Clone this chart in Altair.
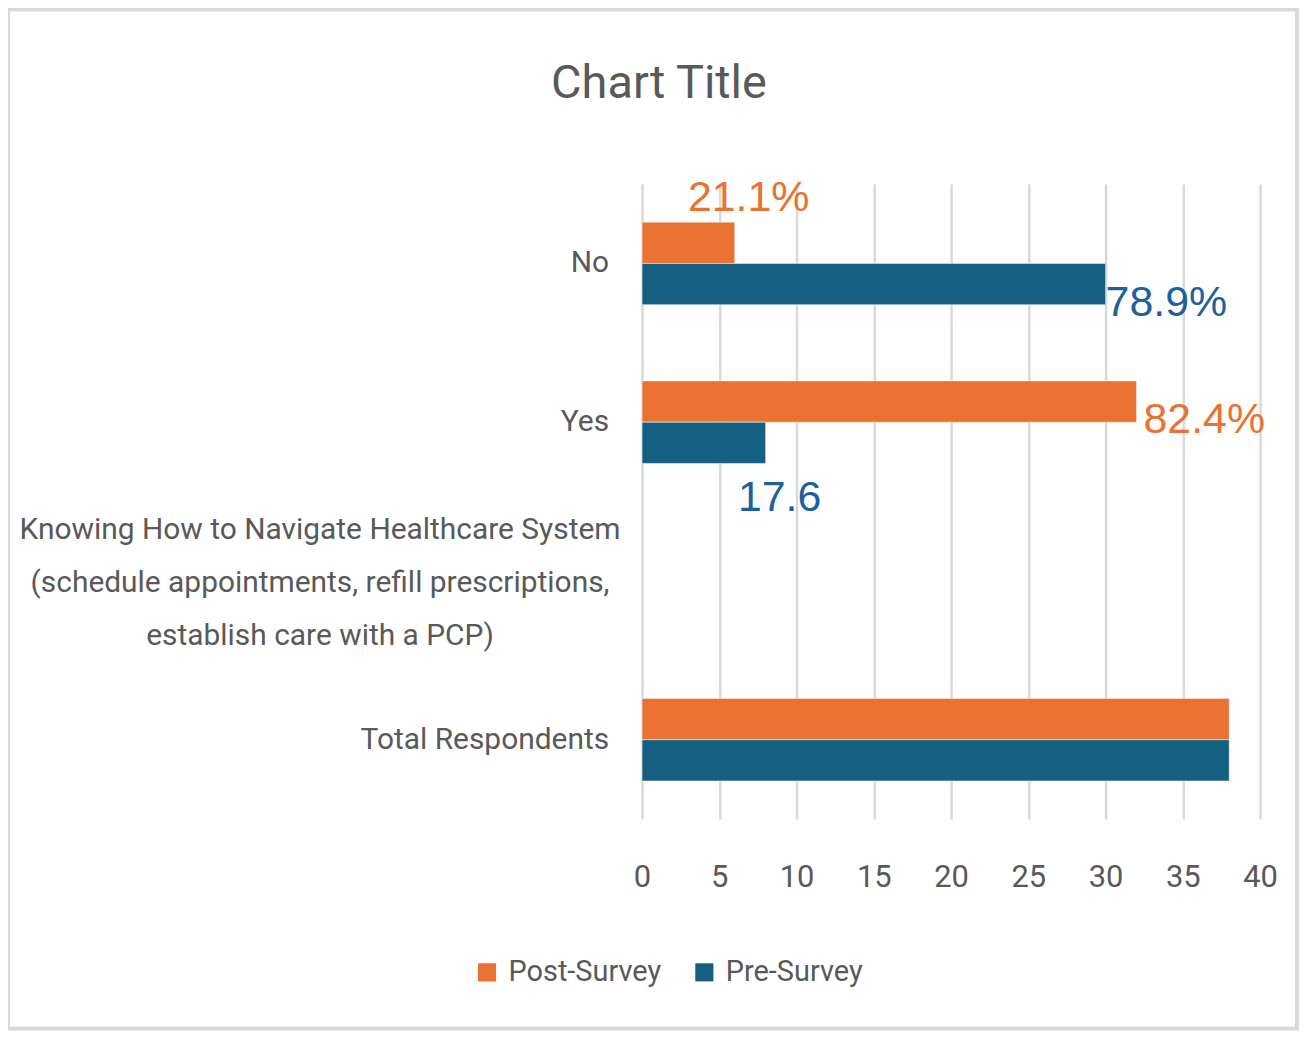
import altair as alt
import pandas as pd

# ---- data ----
cat_keys = ["No", "Yes", "Knowing", "Total Respondents"]
cat_text = ["No", "Yes",
            "Knowing How to Navigate Healthcare System|(schedule appointments, refill prescriptions,|establish care with a PCP)",
            "Total Respondents"]
series = ["Post-Survey", "Pre-Survey"]
post_values = [6, 32, None, 38]
pre_values = [30, 8, None, 38]
post_labels = ["21.1%", "82.4%", "", ""]
pre_labels = ["78.9%", "17.6", "", ""]
x_ticks = [0, 5, 10, 15, 20, 25, 30, 35, 40]

ORANGE = "#E97132"
TEAL = "#156082"
LBLUE = "#215F9A"
GREY = "#595959"
NARROW = "Roboto, sans-serif"

rows = []
for i, c in enumerate(cat_keys):
    rows.append({"cat": c, "series": "Post-Survey", "value": post_values[i], "label": post_labels[i]})
    rows.append({"cat": c, "series": "Pre-Survey", "value": pre_values[i], "label": pre_labels[i]})
df = pd.DataFrame(rows)
bars_df = df.dropna(subset=["value"])

cats_df = pd.DataFrame({"cat": cat_keys, "text": cat_text})

yscale = alt.Scale(domain=cat_keys, paddingInner=0.48, paddingOuter=0.24)
ysort = alt.YOffset("series:N", sort=series, scale=alt.Scale(domain=series, paddingInner=0, paddingOuter=0))

bars = alt.Chart(bars_df).mark_bar(stroke="white", strokeWidth=0.5).encode(
    y=alt.Y("cat:N", scale=yscale, axis=None),
    yOffset=ysort,
    x=alt.X("value:Q", scale=alt.Scale(domain=[0, 40], nice=False),
            axis=alt.Axis(values=x_ticks, grid=True, gridColor="#D9D9D9", gridWidth=2.5,
                          domain=False, ticks=False, labelFontSize=31, labelColor=GREY,
                          labelFont=NARROW, labelPadding=44, labelFlush=False, title=None)),
    color=alt.Color("series:N", sort=series,
                    scale=alt.Scale(domain=series, range=[ORANGE, TEAL]),
                    legend=alt.Legend(orient="none", legendX=-170, legendY=776, direction="horizontal",
                                      title=None, symbolType="square", symbolSize=330,
                                      symbolStrokeWidth=0, labelFontSize=29, labelFont=NARROW,
                                      labelColor=GREY, columnPadding=28, labelOffset=7, labelLimit=0)),
)

# category labels
simple_labels = alt.Chart(cats_df).transform_filter(
    "datum.cat != 'Knowing'"
).mark_text(align="right", baseline="middle", fontSize=30, font=NARROW, color=GREY).encode(
    y=alt.Y("cat:N", scale=yscale, axis=None),
    x=alt.value(-33),
    text="text:N",
)
multi_label = alt.Chart(cats_df).transform_filter(
    "datum.cat == 'Knowing'"
).mark_text(align="center", baseline="middle", fontSize=30, font=NARROW, color=GREY,
            lineBreak="|", lineHeight=53, dy=-51).encode(
    y=alt.Y("cat:N", scale=yscale, axis=None),
    x=alt.value(-323),
    text="text:N",
)

# data labels, each placed as in the reference
label_styles = {
    "21.1%": dict(align="center", dx=14, dy=-45, color=ORANGE),
    "78.9%": dict(align="left", dx=0, dy=19, color=LBLUE),
    "82.4%": dict(align="left", dx=7, dy=19, color=ORANGE),
    "17.6": dict(align="center", dx=14, dy=55, color=LBLUE),
}
label_layers = []
for lab, st in label_styles.items():
    label_layers.append(
        alt.Chart(bars_df).transform_filter(alt.datum.label == lab).mark_text(
            baseline="middle", fontSize=43, font="Liberation Sans, Arial, sans-serif", **st
        ).encode(
            y=alt.Y("cat:N", scale=yscale, axis=None),
            yOffset=ysort,
            x=alt.X("value:Q"),
            text="label:N",
        )
    )

border = alt.Chart(pd.DataFrame({"k": [0]})).mark_rect(
    fill=None, stroke="#D9D9D9", strokeWidth=4
).encode(
    x=alt.value(-636), x2=alt.value(657), y=alt.value(-175), y2=alt.value(847)
)

chart = alt.layer(bars, simple_labels, multi_label, *label_layers, border).properties(
    width=620,
    height=637,
    title=alt.TitleParams("Chart Title", fontSize=47, font=NARROW, fontWeight="normal",
                          color=GREY, anchor="middle", dx=-293, offset=-101),
    autosize=alt.AutoSizeParams(type="none"),
    padding={"left": 636, "top": 175, "right": 39, "bottom": 212},
).configure_view(stroke=None)

chart.save("out.html", embed_options={"renderer": "svg", "actions": False})
